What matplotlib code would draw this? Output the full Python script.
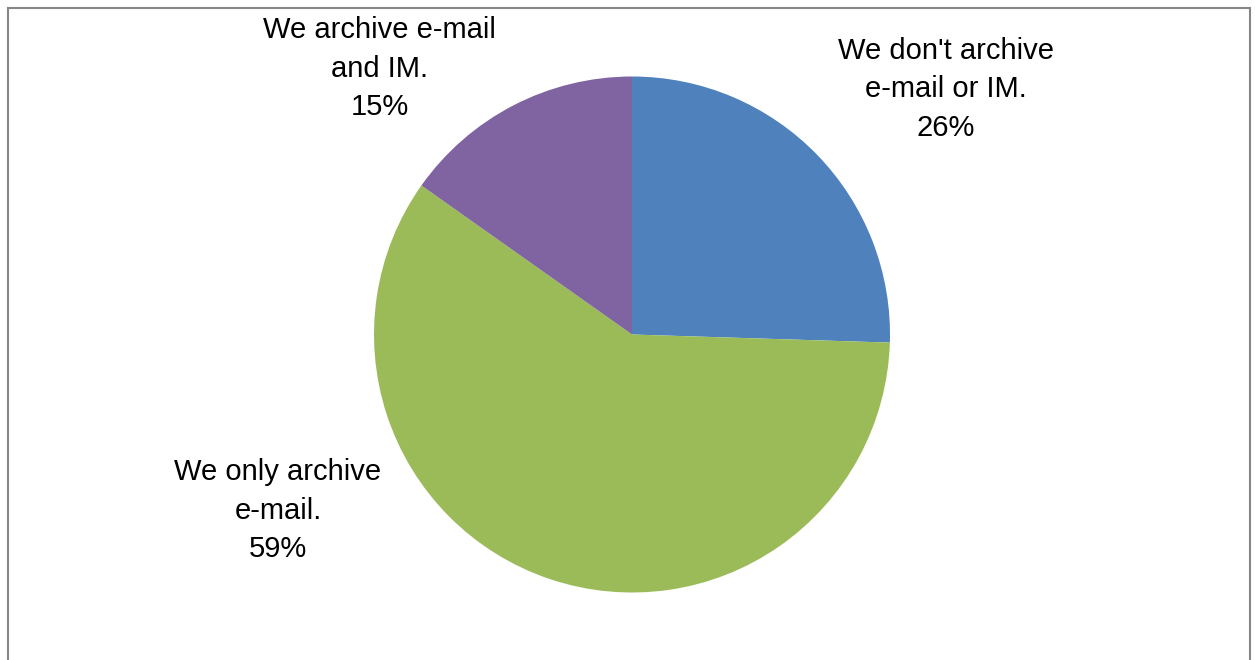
import matplotlib
matplotlib.use("Agg")
import matplotlib.pyplot as plt
from matplotlib.patches import Rectangle

# data, clockwise from 12 o'clock
labels = ["We don't archive\ne-mail or IM.", "We only archive\ne-mail.", "We archive e-mail\nand IM."]
pct_text = ["26%", "59%", "15%"]
# slice sizes as drawn in the picture (percent)
shares = [25.5, 59.3, 15.2]
colors = ["#4F81BD", "#9BBB59", "#8064A2"]

# label anchor points, in units of the pie radius
label_pos = [(1.217, 0.950), (-1.372, -0.683), (-0.977, 1.030)]

W, H = 1255, 660
cx, cy, r = 632, 334.5, 258  # pie centre / radius in pixels

plt.rcParams['font.family'] = ['Liberation Sans', 'DejaVu Sans']

fig = plt.figure(figsize=(W / 100, H / 100), dpi=100)
ax = fig.add_axes([0, 0, 1, 1])

ax.pie(shares, colors=colors, startangle=90, counterclock=False,
       radius=1, wedgeprops=dict(linewidth=0))

for lab, pct, (x, y) in zip(labels, pct_text, label_pos):
    ax.text(x, y, lab + "\n" + pct, ha='center', va='center',
            fontsize=21, linespacing=1.48, color='black')

ax.set_xlim(-cx / r, (W - cx) / r)
ax.set_ylim(-(H - cy) / r, cy / r)
ax.set_aspect('auto')
ax.axis('off')

# chart frame (bottom edge falls outside the picture)
frame = Rectangle((7.5 / W, -0.05), (1249.5 - 7.5) / W, 1.05 - 7.5 / H,
                  transform=fig.transFigure, fill=False,
                  edgecolor='#868686', linewidth=1.5)
fig.patches.append(frame)

fig.savefig("out.png", dpi=100, facecolor='white')
